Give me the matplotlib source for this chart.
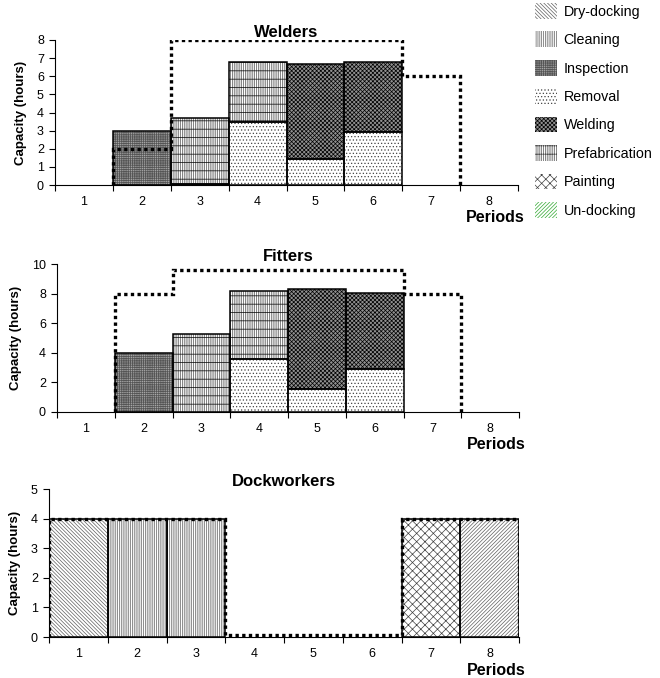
import numpy as np
import matplotlib
matplotlib.use('Agg')
import matplotlib.pyplot as plt
from matplotlib.patches import Patch

plt.rcParams['font.family'] = ['Liberation Sans', 'DejaVu Sans']
plt.rcParams['hatch.linewidth'] = 0.5

periods = np.arange(1, 9)
activities = ['Dry-docking', 'Cleaning', 'Inspection', 'Removal',
              'Welding', 'Prefabrication', 'Painting', 'Un-docking']

# Welders
welders_removal = [0, 0, 0.05, 3.45, 1.45, 2.9, 0, 0]
welders_inspection = [0, 3.0, 0, 0, 0, 0, 0, 0]
welders_prefab = [0, 0, 3.63, 3.32, 0, 0, 0, 0]
welders_welding = [0, 0, 0, 0, 5.2, 3.87, 0, 0]
welders_capacity = [2, 8, 8, 8, 8, 6]      # periods 2-7

# Fitters
fitters_removal = [0, 0, 0, 3.57, 1.52, 2.87, 0, 0]
fitters_inspection = [0, 3.95, 0, 0, 0, 0, 0, 0]
fitters_prefab = [0, 0, 5.26, 4.6, 0, 0, 0, 0]
fitters_welding = [0, 0, 0, 0, 6.81, 5.19, 0, 0]
fitters_capacity = [8, 9.6, 9.6, 9.6, 9.6, 8]   # periods 2-7

# Dockworkers
dock_drydocking = [4, 0, 0, 0, 0, 0, 0, 0]
dock_cleaning = [0, 4, 4, 0, 0, 0, 0, 0]
dock_painting = [0, 0, 0, 0, 0, 0, 4, 0]
dock_undocking = [0, 0, 0, 0, 0, 0, 0, 4]
dock_capacity = [4, 4, 4, 0.07, 0.07, 0.07, 4, 4]

# hatch style per activity: (facecolor, hatch, hatchcolor, overlay hatch)
styles = {
    'Dry-docking': ('white', '\\' * 9, '#606060', None),
    'Cleaning': ('white', '|' * 9, '#606060', None),
    'Inspection': ('#a8a8a8', '+' * 9, '#555555', None),
    'Removal': ('white', '.....', '#444444', None),
    'Welding': ('#909090', 'x' * 8, '#000000', None),
    'Prefabrication': ('white', '|' * 9, '#505050', '--'),
    'Painting': ('white', 'xxxx', '#404040', None),
    'Un-docking': ('white', '/' * 9, '#606060', None),
}
legend_colors = {'Un-docking': '#33aa33'}


def draw_bars(ax, series):
    bottom = np.zeros(len(periods))
    for name, vals in series:
        vals = np.array(vals, dtype=float)
        fc, h, hc, over = styles[name]
        m = vals > 0
        ax.bar(periods[m], vals[m], width=1.0, bottom=bottom[m], color=fc,
               hatch=h, edgecolor=hc, linewidth=0, zorder=2)
        if over:
            ax.bar(periods[m], vals[m], width=1.0, bottom=bottom[m], fill=False,
                   hatch=over, edgecolor='black', linewidth=0, zorder=2)
        ax.bar(periods[m], vals[m], width=1.0, bottom=bottom[m], fill=False,
               edgecolor='black', linewidth=1.1, zorder=3)
        bottom = bottom + vals


def setup(ax, title, ymax, ystep, tpad):
    ax.set_xlim(0.5, 8.5)
    ax.set_ylim(0, ymax)
    ax.set_yticks(np.arange(0, ymax + 0.01, ystep))
    ax.set_xticks(periods)
    ax.set_xticks(np.arange(0.5, 9.0, 1.0), minor=True)
    ax.tick_params(axis='x', which='major', length=0, pad=8, labelsize=9)
    ax.tick_params(axis='x', which='minor', length=4, width=0.8)
    ax.tick_params(axis='y', length=4, width=0.8, pad=4, labelsize=9)
    for s in ['top', 'right']:
        ax.spines[s].set_visible(False)
    ax.spines['left'].set_linewidth(0.8)
    ax.spines['bottom'].set_linewidth(0.8)
    ax.set_title(title, fontsize=12, fontweight='bold', pad=tpad)
    ax.set_ylabel('Capacity (hours)', fontsize=9.5, fontweight='bold', labelpad=7)
    ax.text(1.015, -0.225, 'Periods', transform=ax.transAxes, ha='right', va='center',
            fontsize=11.5, fontweight='bold')


fig = plt.figure(figsize=(6.6, 6.78), dpi=100)

W, H = 660.0, 678.0
ax1 = fig.add_axes([55 / W, 1 - 185 / H, 463 / W, 145 / H])
ax2 = fig.add_axes([57 / W, 1 - 411.7 / H, 462 / W, 147.7 / H])
ax3 = fig.add_axes([49 / W, 1 - 637 / H, 470 / W, 148 / H])

edges = np.arange(0.5, 9.0, 1.0)

draw_bars(ax1, [('Removal', welders_removal), ('Inspection', welders_inspection),
                ('Prefabrication', welders_prefab), ('Welding', welders_welding)])
ax1.stairs(welders_capacity, edges[1:8], baseline=0, color='black',
           linestyle=(0, (1, 1)), linewidth=2.4, zorder=4)
setup(ax1, 'Welders', 8, 1, 2)

draw_bars(ax2, [('Removal', fitters_removal), ('Inspection', fitters_inspection),
                ('Prefabrication', fitters_prefab), ('Welding', fitters_welding)])
ax2.stairs(fitters_capacity, edges[1:8], baseline=0, color='black',
           linestyle=(0, (1, 1)), linewidth=2.4, zorder=4)
setup(ax2, 'Fitters', 10, 2, 2)

draw_bars(ax3, [('Dry-docking', dock_drydocking), ('Cleaning', dock_cleaning),
                ('Painting', dock_painting), ('Un-docking', dock_undocking)])
ax3.stairs(dock_capacity, edges, color='black',
           linestyle=(0, (1, 1)), linewidth=2.4, zorder=4)
setup(ax3, 'Dockworkers', 5, 1, 1.5)

handles = []
for name in activities:
    fc, h, hc, over = styles[name]
    hc = legend_colors.get(name, hc)
    handles.append(Patch(facecolor=fc, hatch=h + (over or ''), edgecolor=hc,
                         linewidth=0, label=name))
fig.legend(handles=handles, loc='upper left', bbox_to_anchor=(535 / W, 1 - 3 / H),
           frameon=False, fontsize=10.3, handlelength=1.55, handleheight=1.3,
           labelspacing=0.9, handletextpad=0.45, borderpad=0, borderaxespad=0)

fig.savefig('out.png', dpi=100)
